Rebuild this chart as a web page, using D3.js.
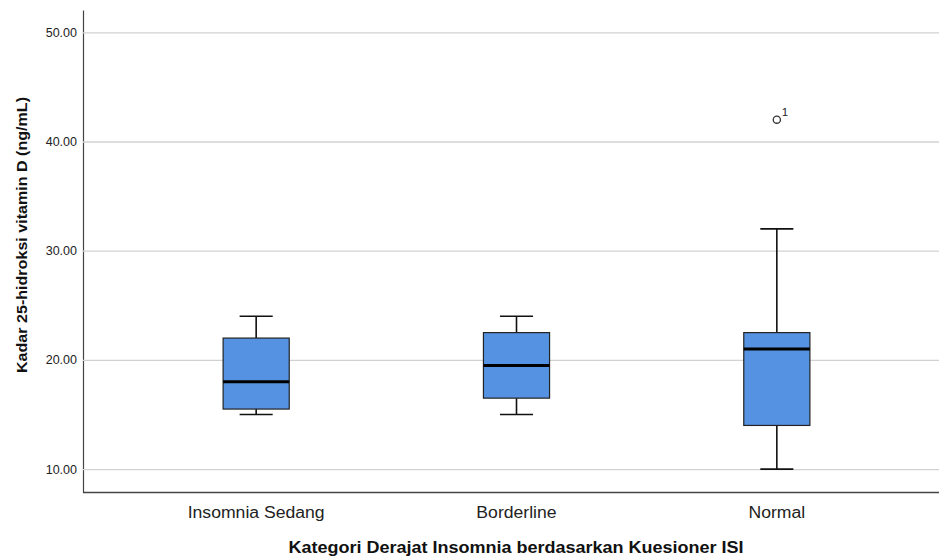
<!DOCTYPE html>
<html>
<head>
<meta charset="utf-8">
<script src="https://cdn.jsdelivr.net/npm/d3@7/dist/d3.min.js"></script>
<style>
  html, body { margin: 0; padding: 0; background: #fff; }
  svg { display: block; font-family: "Liberation Sans", Arial, sans-serif; }
</style>
</head>
<body>
<svg id="chart" width="939" height="560"></svg>
<script>
// Vitamin D levels (ng/mL) by insomnia category (ISI questionnaire)
const categories = ["Insomnia Sedang", "Borderline", "Normal"];
const whiskerLow  = [15, 15, 10];
const q1          = [15.5, 16.5, 14];
const median      = [18, 19.5, 21];
const q3          = [22, 22.5, 22.5];
const whiskerHigh = [24, 24, 32];
// outliers: category, value, case label
const outlierCategory = ["Normal"];
const outlierValue    = [42];
const outlierLabel    = ["1"];
const yTicks = [10, 20, 30, 40, 50];

const yTitle = "Kadar 25-hidroksi vitamin D (ng/mL)";
const xTitle = "Kategori Derajat Insomnia berdasarkan Kuesioner ISI";

const svg = d3.select("#chart");
const W = 939, H = 560;
const plotLeft = 83, plotRight = W, plotTop = 10, plotBottom = 492.5;

const x = d3.scaleBand().domain(categories).range([126, 907]).padding(0);
const y = d3.scaleLinear().domain([7.86, 52.04]).range([plotBottom, plotTop]);

// y axis with full-width gridlines
const yAxis = svg.append("g")
  .attr("transform", `translate(${plotLeft},0)`)
  .call(d3.axisLeft(y).tickValues(yTicks).tickFormat(d3.format(".2f"))
    .tickSizeInner(-(plotRight - plotLeft)).tickSizeOuter(0).tickPadding(6));
yAxis.select(".domain").attr("stroke", "#444").attr("stroke-width", 1.2);
yAxis.selectAll(".tick line").attr("stroke", "#d2d2d2").attr("stroke-width", 1.3);
yAxis.selectAll(".tick text").attr("fill", "#222").style("font-size", "12.5px");

// x axis line
svg.append("line")
  .attr("x1", plotLeft).attr("x2", plotRight)
  .attr("y1", plotBottom).attr("y2", plotBottom)
  .attr("stroke", "#444").attr("stroke-width", 1.3);

// category labels, stretched slightly to the typeset width
svg.append("g").selectAll("text").data(categories).join("text")
  .attr("x", d => x(d) + x.bandwidth() / 2)
  .attr("y", 518)
  .attr("text-anchor", "middle")
  .attr("fill", "#222")
  .style("font-size", "16px")
  .each(function (d) {
    const t = d3.select(this).text(d);
    const w = this.getComputedTextLength();
    t.attr("textLength", w * 1.1).attr("lengthAdjust", "spacingAndGlyphs");
  });

// boxes
const boxW = x.bandwidth() * 0.254;
const capW = boxW / 2;
const g = svg.append("g");
categories.forEach((c, i) => {
  const cx = x(c) + x.bandwidth() / 2;
  // whiskers
  g.append("line").attr("x1", cx).attr("x2", cx)
    .attr("y1", y(whiskerHigh[i])).attr("y2", y(q3[i]))
    .attr("stroke", "#111").attr("stroke-width", 1.6);
  g.append("line").attr("x1", cx).attr("x2", cx)
    .attr("y1", y(q1[i])).attr("y2", y(whiskerLow[i]))
    .attr("stroke", "#111").attr("stroke-width", 1.6);
  g.append("line").attr("x1", cx - capW / 2).attr("x2", cx + capW / 2)
    .attr("y1", y(whiskerHigh[i])).attr("y2", y(whiskerHigh[i]))
    .attr("stroke", "#111").attr("stroke-width", 1.6);
  g.append("line").attr("x1", cx - capW / 2).attr("x2", cx + capW / 2)
    .attr("y1", y(whiskerLow[i])).attr("y2", y(whiskerLow[i]))
    .attr("stroke", "#111").attr("stroke-width", 1.6);
  // box
  g.append("rect")
    .attr("x", cx - boxW / 2).attr("width", boxW)
    .attr("y", y(q3[i])).attr("height", y(q1[i]) - y(q3[i]))
    .attr("fill", "#5593e2").attr("stroke", "#222").attr("stroke-width", 1.2);
  // median
  g.append("line").attr("x1", cx - boxW / 2).attr("x2", cx + boxW / 2)
    .attr("y1", y(median[i])).attr("y2", y(median[i]))
    .attr("stroke", "#000").attr("stroke-width", 3);
});

// outliers
outlierValue.forEach((v, i) => {
  const cx = x(outlierCategory[i]) + x.bandwidth() / 2;
  svg.append("circle").attr("cx", cx).attr("cy", y(v)).attr("r", 3.6)
    .attr("fill", "#fff").attr("stroke", "#333").attr("stroke-width", 1.3);
  svg.append("text").attr("x", cx + 5).attr("y", y(v) - 4)
    .attr("fill", "#222").style("font-size", "11.5px").text(outlierLabel[i]);
});

// axis titles
svg.append("text")
  .attr("x", 516).attr("y", 553)
  .attr("text-anchor", "middle")
  .attr("fill", "#111")
  .style("font-size", "16px").style("font-weight", "bold")
  .attr("textLength", 455).attr("lengthAdjust", "spacingAndGlyphs")
  .text(xTitle);
svg.append("text")
  .attr("transform", "translate(27,235) rotate(-90)")
  .attr("text-anchor", "middle")
  .attr("fill", "#111")
  .style("font-size", "15.5px").style("font-weight", "bold")
  .attr("textLength", 276).attr("lengthAdjust", "spacingAndGlyphs")
  .text(yTitle);
</script>
</body>
</html>
